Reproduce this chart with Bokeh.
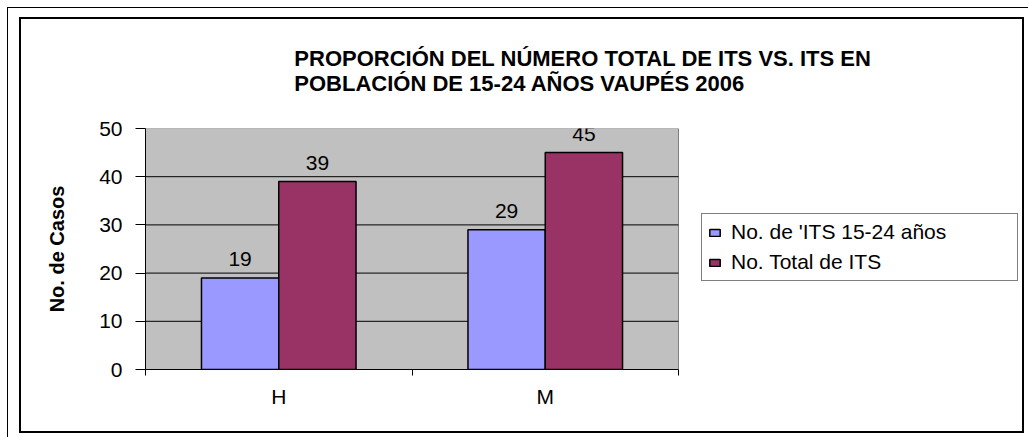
from bokeh.plotting import figure
from bokeh.models import (ColumnDataSource, Range1d, LinearAxis, Title, BoxAnnotation,
                          FixedTicker, LabelSet, Legend, LegendItem)
from bokeh.transform import dodge
from bokeh.core.properties import value
from bokeh.embed import file_html
from bokeh.resources import INLINE

categories = ["H", "M"]
series_names = ["No. de 'ITS 15-24 años", "No. Total de ITS"]
its_15_24 = [19, 29]
its_total = [39, 45]
y_ticks = [0, 10, 20, 30, 40, 50]
title_lines = ["PROPORCIÓN DEL NÚMERO TOTAL DE ITS VS. ITS EN",
               "POBLACIÓN DE 15-24 AÑOS VAUPÉS 2006"]
y_label = "No. de Casos"

FONT = "Liberation Sans"
BLUE = "#9999FF"
MAROON = "#993366"

n = len(categories)
centers = [i + 0.5 for i in range(n)]
source = ColumnDataSource(dict(
    cat=categories, xc=centers, a=its_15_24, b=its_total,
    a_txt=[str(v) for v in its_15_24], b_txt=[str(v) for v in its_total]))
grid_src = ColumnDataSource(dict(y=y_ticks[1:-1], x0=[0] * (len(y_ticks) - 2),
                                 x1=[n] * (len(y_ticks) - 2)))

W, H = 1028, 437
PLOT_L, PLOT_R, FRAME_R = 145, 678, 1020
x_end = n * (FRAME_R - PLOT_L) / (PLOT_R - PLOT_L)
p = figure(width=W, height=H, x_range=Range1d(0, x_end),
           y_range=Range1d(0, y_ticks[-1]), output_backend="svg", toolbar_location=None,
           x_axis_location=None,
           min_border_left=PLOT_L, min_border_right=W - FRAME_R, min_border_top=128,
           min_border_bottom=H - 369)
p.background_fill_color = "white"
p.border_fill_color = None
p.outline_line_color = None

# chart borders drawn as CSS background lines on the figure element
lines = [  # (x, y, w, h)
    (19, 17, 2, 416), (1022, 17, 2, 416), (19, 17, 1005, 2), (19, 431, 1005, 2),
    (7, 7, 1, 430), (7, 7, 1021, 1),
]
p.styles = {
    "background-color": "white",
    "background-image": ", ".join(["linear-gradient(#000, #000)"] * len(lines)),
    "background-size": ", ".join(f"{w}px {h}px" for _, _, w, h in lines),
    "background-position": ", ".join(f"{x}px {y}px" for x, y, _, _ in lines),
    "background-repeat": "no-repeat",
}

# grey plot area
p.add_layout(BoxAnnotation(left=0, right=n, bottom=y_ticks[0], top=y_ticks[-1],
                           fill_color="#C0C0C0", fill_alpha=1, line_color="#808080",
                           line_alpha=1, line_width=1, level="underlay"))

# y axis
p.yaxis.ticker = FixedTicker(ticks=y_ticks)
p.yaxis.axis_line_color = "black"
p.yaxis.major_tick_line_color = "black"
p.yaxis.major_tick_out = 10
p.yaxis.major_tick_in = 0
p.yaxis.minor_tick_line_color = None
p.yaxis.major_label_text_font = FONT
p.yaxis.major_label_text_font_size = "21px"
p.yaxis.major_label_text_color = "black"
p.yaxis.major_label_standoff = 13
p.yaxis.axis_label = y_label
p.yaxis.axis_label_text_font = FONT
p.yaxis.axis_label_text_font_style = "bold"
p.yaxis.axis_label_text_font_size = "20px"
p.yaxis.axis_label_text_color = "black"
p.yaxis.axis_label_standoff = 28

p.xgrid.visible = False
p.ygrid.visible = False

# x axes: boundary ticks + category labels
bounds = list(range(n + 1))
tick_axis = LinearAxis(ticker=FixedTicker(ticks=bounds), bounds=(0, n),
                       major_label_overrides={b: "" for b in bounds},
                       major_label_text_font_size="1px", major_label_standoff=0,
                       major_tick_out=6, major_tick_in=0, minor_tick_line_color=None,
                       axis_line_color="black", major_tick_line_color="black")
cat_axis = LinearAxis(ticker=FixedTicker(ticks=centers),
                      major_label_overrides={c: lab for c, lab in zip(centers, categories)},
                      axis_line_color=None, major_tick_line_color=None,
                      minor_tick_line_color=None,
                      major_label_text_font=FONT, major_label_text_font_size="21px",
                      major_label_text_color="black", major_label_standoff=3)
p.add_layout(tick_axis, "below")
p.add_layout(cat_axis, "below")

# horizontal gridlines across the grey area only
p.segment(x0="x0", x1="x1", y0="y", y1="y", line_color="black", line_width=1,
          source=grid_src)

# bars
r1 = p.vbar(x=dodge("xc", -0.145), top="a", width=0.29,
            fill_color=BLUE, line_color="black", line_width=1.5, source=source)
r2 = p.vbar(x=dodge("xc", 0.145), top="b", width=0.29,
            fill_color=MAROON, line_color="black", line_width=1.5, source=source)

for col, txt, off in (("a", "a_txt", -0.145), ("b", "b_txt", 0.145)):
    p.add_layout(LabelSet(x=dodge("xc", off), y=col, text=txt,
                          y_offset=19, text_align="center", text_baseline="middle",
                          text_font=value(FONT), text_font_size="21px",
                          text_color="black", source=source))

legend = Legend(items=[LegendItem(label=series_names[0], renderers=[r1]),
                       LegendItem(label=series_names[1], renderers=[r2])],
                location=(701 - PLOT_L, 369 - 281), margin=0, padding=6, spacing=6,
                glyph_width=13, glyph_height=9, label_height=22, label_width=280,
                label_standoff=10, label_text_font=FONT, label_text_font_size="21px",
                label_text_color="black", border_line_color="black",
                border_line_width=1, background_fill_color="white",
                background_fill_alpha=1)
p.add_layout(legend)

# title (two centred lines)
p.add_layout(Title(text="\n".join(title_lines), align="center", offset=-57,
                   vertical_align="bottom", standoff=66,
                   text_font=FONT, text_font_style="bold", text_font_size="22px",
                   text_color="black"), "above")

open("out.html", "w").write(file_html(p, INLINE))
